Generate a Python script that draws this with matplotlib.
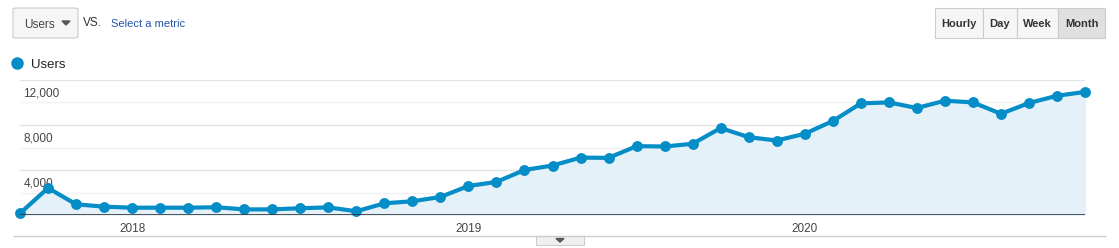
import matplotlib
matplotlib.use('Agg')
import matplotlib.pyplot as plt
from matplotlib.patches import Rectangle, FancyBboxPatch, Polygon
import pandas as pd

plt.rcParams['font.family'] = ['Liberation Sans', 'DejaVu Sans']

# Datos: usuarios por mes (sep 2017 - nov 2020)
meses = pd.date_range('2017-09-01', periods=39, freq='MS')
usuarios = [150, 2400, 950, 740, 650, 650, 650, 690, 500, 500,
            600, 680, 330, 1040, 1220, 1600, 2580, 2940, 4000, 4400,
            5100, 5080, 6120, 6090, 6330, 7730, 6920, 6620, 7220, 8350,
            9920, 10010, 9510, 10160, 10010, 9000, 9950, 10600, 10940]
y_ticks = [4000, 8000, 12000]
y_minor = [2000, 6000, 10000]
botones = ['Hourly', 'Day', 'Week', 'Month']

W, H = 1119, 248
fig = plt.figure(figsize=(W / 100, H / 100), dpi=100)


def fx(px):
    return px / W


def fy(py):
    return 1 - py / H


azul = '#058dc7'
x = list(range(len(usuarios)))

ax = fig.add_axes([fx(20), fy(215), fx(1085) - fx(20), fy(80) - fy(215)])
ax.set_xlim(0, len(usuarios) - 1)
ax.set_ylim(0, 12000)
for v in y_ticks:
    ax.axhline(v, color='#e4e4e4', lw=1, zorder=0)
    ax.text(0.12, v - 1450, f'{v:,}', ha='left', va='baseline', fontsize=8.5, color='#444444')
for v in y_minor:
    ax.axhline(v, color='#f1f1f1', lw=1, zorder=0)
ax.fill_between(x, usuarios, 0, color='#e5f1f8', zorder=1)
ax.plot(x, usuarios, color=azul, lw=3, marker='o', ms=6.8, clip_on=False, zorder=3)
ax.axhline(0, color='#333333', lw=1.2, zorder=4)

for s in ax.spines.values():
    s.set_visible(False)
ticks = [i for i, m in enumerate(meses) if m.month == 1]
ax.set_xticks(ticks)
ax.set_xticklabels([str(meses[i].year) for i in ticks], fontsize=8.5, color='#444444')
ax.tick_params(axis='x', length=0, pad=6)
ax.set_yticks([])

# línea inferior y pestaña
fig.add_artist(plt.Line2D([fx(14), fx(1105)], [fy(236), fy(236)], color='#cccccc', lw=1))
fig.add_artist(Rectangle((fx(536), fy(245)), fx(584) - fx(536), fy(236) - fy(245),
                         facecolor='#f0f0f0', edgecolor='#cccccc', lw=0.8))
fig.add_artist(Polygon([[fx(556), fy(238.5)], [fx(564), fy(238.5)], [fx(560), fy(242)]],
                       closed=True, color='#555555'))

# selector de métrica
fig.add_artist(FancyBboxPatch((fx(13), fy(38)), fx(78) - fx(13), fy(8) - fy(38),
                              boxstyle='round,pad=0,rounding_size=0.004',
                              facecolor='#f6f6f6', edgecolor='#cccccc', lw=0.8))
fig.text(fx(24), fy(23), 'Users', fontsize=8.5, color='#444444', va='center_baseline')
fig.add_artist(Polygon([[fx(62), fy(21)], [fx(70), fy(21)], [fx(66), fy(25)]],
                       closed=True, color='#555555'))
fig.text(fx(83), fy(22), 'VS.', fontsize=8.5, color='#333333', va='center_baseline')
fig.text(fx(111), fy(23), 'Select a metric', fontsize=8, color='#2255a4', va='center_baseline')

# leyenda
fig.add_artist(plt.Line2D([fx(17)], [fy(63)], marker='o', ms=8, color=azul))
fig.text(fx(31), fy(63.5), 'Users', fontsize=9.5, color='#222222', va='center_baseline')

# botones de periodo
bordes = [935, 982.7, 1016.7, 1058.3, 1105]
for i, nombre in enumerate(botones):
    x0, x1 = bordes[i], bordes[i + 1]
    fondo = '#e0e0e0' if nombre == 'Month' else '#f6f6f6'
    fig.add_artist(Rectangle((fx(x0), fy(38)), fx(x1) - fx(x0), fy(8) - fy(38),
                             facecolor=fondo, edgecolor='#cccccc', lw=0.8))
    fig.text(fx((x0 + x1) / 2), fy(23), nombre, fontsize=8, fontweight='bold',
             color='#333333', ha='center', va='center_baseline')

fig.savefig('out.png', dpi=100)
